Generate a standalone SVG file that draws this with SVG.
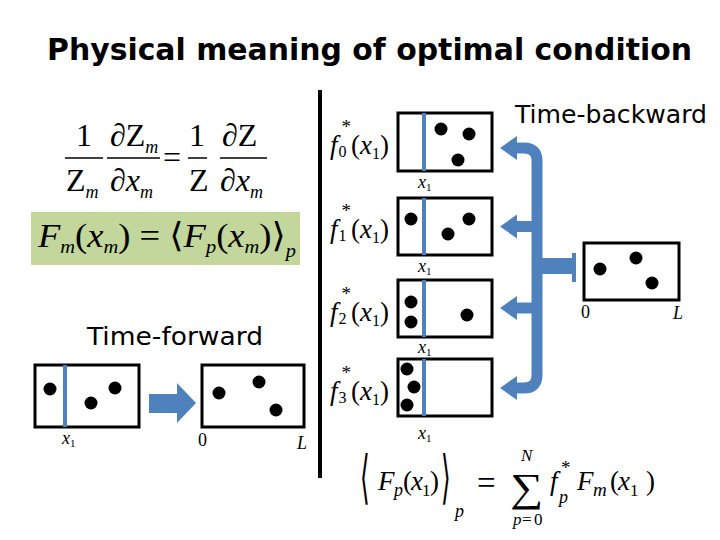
<svg xmlns="http://www.w3.org/2000/svg" width="720" height="540" viewBox="0 0 720 540">
<style>
.box{fill:#fff;stroke:#000;stroke-width:3}
.dot{fill:#000}
.cut{stroke:#4f81bd;stroke-width:4}
.m{font-family:"Liberation Serif","DejaVu Serif",serif;fill:#000}
.i{font-style:italic}
.lbl{font-family:"DejaVu Sans",sans-serif;fill:#000}
.bar{stroke:#000;stroke-width:1.5}
.arr{fill:#4f81bd}
.shaft{stroke:#4f81bd;stroke-width:11;fill:none}
</style>
<rect width="720" height="540" fill="#fff"/>
<text class="lbl" x="47" y="60" font-size="31" font-weight="bold" textLength="645" lengthAdjust="spacingAndGlyphs">Physical meaning of optimal condition</text>
<line x1="320" y1="90" x2="320" y2="478" stroke="#000" stroke-width="4"/>

<g id="formula-top">
<text class="m" x="84" y="146" font-size="32" text-anchor="middle">1</text>
<line class="bar" x1="65" y1="158" x2="103" y2="158"/>
<text class="m" x="66" y="191" font-size="32">Z<tspan class="i" font-size="18" dy="7">m</tspan></text>
<text class="m" x="110" y="146" font-size="32">∂Z<tspan class="i" font-size="18" dy="7">m</tspan></text>
<line class="bar" x1="107" y1="158" x2="160" y2="158"/>
<text class="m" x="110" y="191" font-size="32">∂<tspan class="i">x</tspan><tspan class="i" font-size="18" dy="7">m</tspan></text>
<text class="m" x="163" y="168" font-size="32">=</text>
<text class="m" x="197" y="146" font-size="32" text-anchor="middle">1</text>
<line class="bar" x1="188" y1="158" x2="207" y2="158"/>
<text class="m" x="189" y="191" font-size="32">Z</text>
<text class="m" x="222" y="146" font-size="32">∂Z</text>
<line class="bar" x1="220" y1="158" x2="267" y2="158"/>
<text class="m" x="220" y="191" font-size="32">∂<tspan class="i">x</tspan><tspan class="i" font-size="18" dy="7">m</tspan></text>
</g>

<g id="formula-green">
<rect x="31" y="212" width="269" height="53" fill="#c3d69b"/>
<text class="m" x="38" y="247" font-size="34" textLength="258" lengthAdjust="spacingAndGlyphs"><tspan class="i">F</tspan><tspan class="i" font-size="19" dy="6">m</tspan><tspan dy="-6">(</tspan><tspan class="i">x</tspan><tspan class="i" font-size="19" dy="6">m</tspan><tspan dy="-6">) = ⟨</tspan><tspan class="i">F</tspan><tspan class="i" font-size="19" dy="6">p</tspan><tspan dy="-6">(</tspan><tspan class="i">x</tspan><tspan class="i" font-size="19" dy="6">m</tspan><tspan dy="-6">)⟩</tspan><tspan class="i" font-size="19" dy="10">p</tspan></text>
</g>

<text class="lbl" x="87" y="345" font-size="25" textLength="176" lengthAdjust="spacingAndGlyphs">Time-forward</text>
<text class="lbl" x="515" y="123" font-size="25" textLength="192" lengthAdjust="spacingAndGlyphs">Time-backward</text>

<g id="box-forward-x1">
<rect class="box" x="35" y="365" width="104" height="62"/>
<line class="cut" x1="65" y1="365" x2="65" y2="427"/>
<circle class="dot" cx="50" cy="389" r="6.5"/>
<circle class="dot" cx="91" cy="403" r="6.5"/>
<circle class="dot" cx="115" cy="388" r="6.5"/>
<text class="m" x="62" y="444" font-size="18"><tspan class="i">x</tspan><tspan font-size="11" dy="3">1</tspan></text>
</g>

<g id="box-forward-L">
<rect class="box" x="202" y="365" width="102" height="62"/>
<circle class="dot" cx="219" cy="393" r="6.5"/>
<circle class="dot" cx="259" cy="382" r="6.5"/>
<circle class="dot" cx="276" cy="410" r="6.5"/>
<text class="m" x="198" y="446" font-size="18">0</text>
<text class="m i" x="297" y="449" font-size="18">L</text>
</g>

<g id="box-f0">
<rect class="box" x="398" y="113" width="94" height="58"/>
<line class="cut" x1="424" y1="113" x2="424" y2="171"/>
<circle class="dot" cx="441" cy="129" r="6.5"/>
<circle class="dot" cx="469" cy="134" r="6.5"/>
<circle class="dot" cx="458" cy="160" r="6.5"/>
<text class="m" x="418" y="188" font-size="18"><tspan class="i">x</tspan><tspan font-size="11" dy="3">1</tspan></text>
<text class="m" x="330" y="154" font-size="27"><tspan class="i">f</tspan><tspan font-size="16" dx="1" dy="3">0</tspan><tspan font-size="19" dx="-5" dy="-24">*</tspan><tspan dy="21">(</tspan><tspan class="i">x</tspan><tspan font-size="16" dy="5">1</tspan><tspan dy="-5">)</tspan></text>
</g>

<g id="box-f1">
<rect class="box" x="398" y="198" width="94" height="57"/>
<line class="cut" x1="424" y1="198" x2="424" y2="255"/>
<circle class="dot" cx="411" cy="219" r="6.5"/>
<circle class="dot" cx="469" cy="219" r="6.5"/>
<circle class="dot" cx="448" cy="234" r="6.5"/>
<text class="m" x="418" y="272" font-size="18"><tspan class="i">x</tspan><tspan font-size="11" dy="3">1</tspan></text>
<text class="m" x="330" y="238" font-size="27"><tspan class="i">f</tspan><tspan font-size="16" dx="1" dy="3">1</tspan><tspan font-size="19" dx="-5" dy="-24">*</tspan><tspan dy="21">(</tspan><tspan class="i">x</tspan><tspan font-size="16" dy="5">1</tspan><tspan dy="-5">)</tspan></text>
</g>

<g id="box-f2">
<rect class="box" x="398" y="280" width="94" height="57"/>
<line class="cut" x1="424" y1="280" x2="424" y2="337"/>
<circle class="dot" cx="411" cy="302" r="6.5"/>
<circle class="dot" cx="411" cy="322" r="6.5"/>
<circle class="dot" cx="467" cy="315" r="6.5"/>
<text class="m" x="418" y="353" font-size="18"><tspan class="i">x</tspan><tspan font-size="11" dy="3">1</tspan></text>
<text class="m" x="330" y="321" font-size="27"><tspan class="i">f</tspan><tspan font-size="16" dx="1" dy="3">2</tspan><tspan font-size="19" dx="-5" dy="-24">*</tspan><tspan dy="21">(</tspan><tspan class="i">x</tspan><tspan font-size="16" dy="5">1</tspan><tspan dy="-5">)</tspan></text>
</g>

<g id="box-f3">
<rect class="box" x="398" y="359" width="94" height="57"/>
<line class="cut" x1="424" y1="359" x2="424" y2="416"/>
<circle class="dot" cx="407" cy="369" r="6.5"/>
<circle class="dot" cx="414" cy="387" r="6.5"/>
<circle class="dot" cx="407" cy="405" r="6.5"/>
<text class="m" x="418" y="439" font-size="18"><tspan class="i">x</tspan><tspan font-size="11" dy="3">1</tspan></text>
<text class="m" x="330" y="400" font-size="27"><tspan class="i">f</tspan><tspan font-size="16" dx="1" dy="3">3</tspan><tspan font-size="19" dx="-5" dy="-24">*</tspan><tspan dy="21">(</tspan><tspan class="i">x</tspan><tspan font-size="16" dy="5">1</tspan><tspan dy="-5">)</tspan></text>
</g>

<g id="box-backward-L">
<rect class="box" x="584" y="243" width="95" height="57"/>
<circle class="dot" cx="600" cy="269" r="6.5"/>
<circle class="dot" cx="636" cy="258" r="6.5"/>
<circle class="dot" cx="652" cy="283" r="6.5"/>
<text class="m" x="581" y="318" font-size="18">0</text>
<text class="m i" x="673" y="319" font-size="18">L</text>
</g>

<g id="formula-bottom">
<text class="m" font-size="40" transform="translate(360 497) scale(0.62 1.45)">⟨</text>
<text class="m" y="490" font-size="27"><tspan class="i" x="378">F</tspan><tspan class="i" font-size="18" x="394" y="496">p</tspan><tspan x="403" y="490">(</tspan><tspan class="i" x="411">x</tspan><tspan font-size="17" x="422" y="496">1</tspan><tspan x="430" y="490">)</tspan></text>
<text class="m" font-size="40" transform="translate(441 497) scale(0.62 1.45)">⟩</text>
<text class="m i" x="455" y="517" font-size="18">p</text>
<text class="m" x="477" y="494" font-size="33">=</text>
<text class="m" x="510" y="501" font-size="40" textLength="33" lengthAdjust="spacingAndGlyphs">∑</text>
<text class="m i" x="521" y="461" font-size="17">N</text>
<text class="m" y="525" font-size="17"><tspan class="i" x="513">p</tspan><tspan x="522">=</tspan><tspan x="534">0</tspan></text>
<text class="m" y="490" font-size="27"><tspan class="i" x="550">f</tspan><tspan class="i" font-size="18" x="559" dy="13">p</tspan><tspan font-size="19" x="561" dy="-29">*</tspan><tspan class="i" x="577" dy="16">F</tspan><tspan class="i" font-size="19" x="593" dy="6">m</tspan><tspan x="610" dy="-6">(</tspan><tspan class="i" x="618">x</tspan><tspan font-size="17" x="630" dy="6">1</tspan><tspan x="646" dy="-6">)</tspan></text>
</g>

<g id="connectors">
<polygon class="arr" points="149,394 177,394 177,383 196,403 177,423 177,413 149,413"/>
<path class="shaft" d="M514 148 H524 Q537 148 537 161 V375 Q537 388 524 388 H514"/>
<path class="shaft" d="M514 226.5 H537 M514 308 H537"/>
<polygon class="arr" points="500,148 517,136 517,160"/>
<polygon class="arr" points="500,226.5 517,214.5 517,238.5"/>
<polygon class="arr" points="500,308 517,296 517,320"/>
<polygon class="arr" points="500,388 517,376 517,400"/>
<rect class="arr" x="537" y="258" width="36" height="16"/>
<rect x="572" y="253" width="4" height="29" fill="#4f81bd"/>
</g>
</svg>
